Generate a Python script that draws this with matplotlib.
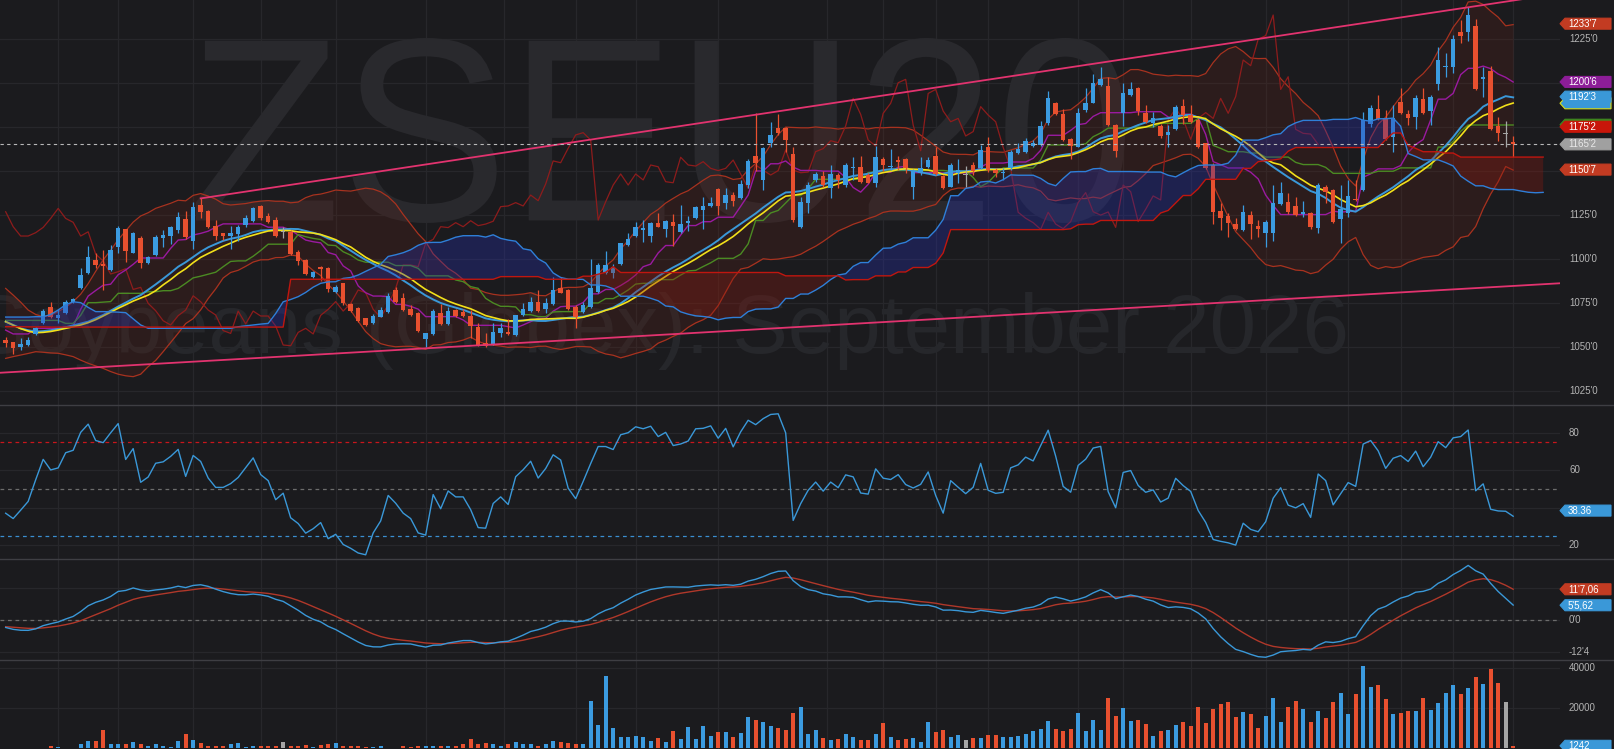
import numpy as np
import pandas as pd
import matplotlib
matplotlib.use("Agg")
import matplotlib.pyplot as plt
from matplotlib.patches import Polygon, PathPatch
from matplotlib.lines import Line2D
from matplotlib.textpath import TextPath
from matplotlib.font_manager import FontProperties
from matplotlib.transforms import blended_transform_factory, IdentityTransform, Affine2D

plt.rcParams['font.family'] = ['Liberation Sans', 'DejaVu Sans']

# ------------------------------------------------------------------ data
opens = [1053.9, 1052.6, 1050.1, 1051.1, 1057.2, 1063.4, 1072.5, 1066.3, 1069.1, 1075.5,
         1083.3, 1091.8, 1099.4, 1097.0, 1093.7, 1107.0, 1116.9, 1103.6, 1112.1, 1097.5,
         1102.3, 1111.9, 1113.1, 1116.5, 1122.6, 1110.4, 1130.7, 1127.5, 1118.8, 1114.6,
         1113.1, 1114.2, 1119.3, 1121.6, 1130.1, 1124.5, 1122.2, 1115.5, 1115.2, 1104.2,
         1099.4, 1089.6, 1095.3, 1094.7, 1081.4, 1086.2, 1074.4, 1072.3, 1066.3, 1063.4,
         1067.2, 1069.7, 1082.4, 1077.7, 1071.4, 1069.1, 1054.3, 1057.4, 1069.1, 1063.1,
         1071.0, 1069.7, 1067.6, 1061.5, 1052.4, 1051.7, 1057.7, 1058.3, 1056.8, 1068.2,
         1070.6, 1075.8, 1071.4, 1074.4, 1083.4, 1082.4, 1072.9, 1070.1, 1072.9, 1081.1,
         1091.9, 1091.9, 1097.2, 1108.0, 1113.1, 1116.5, 1113.1, 1120.3, 1117.1, 1120.9,
         1115.6, 1120.7, 1123.2, 1127.9, 1130.2, 1139.7, 1131.7, 1136.4, 1134.5, 1142.1,
         1158.6, 1145.0, 1165.8, 1174.4, 1174.4, 1159.8, 1118.4, 1132.1, 1145.0, 1147.2,
         1140.2, 1147.8, 1142.1, 1151.8, 1152.5, 1147.8, 1143.4, 1156.7, 1152.2, 1156.3,
         1156.7, 1140.8, 1149.1, 1152.2, 1158.6, 1147.2, 1141.2, 1148.7, 1147.8, 1153.5,
         1151.6, 1163.5, 1150.6, 1148.7, 1151.6, 1160.1, 1161.1, 1164.3, 1164.9, 1177.2,
         1188.9, 1182.5, 1168.1, 1163.9, 1184.8, 1188.9, 1199.0, 1198.4, 1176.2, 1182.9,
         1193.3, 1197.1, 1183.3, 1177.6, 1175.7, 1170.6, 1173.8, 1187.1, 1181.9, 1179.1,
         1165.8, 1153.5, 1127.5, 1124.5, 1119.9, 1116.5, 1125.0, 1118.8, 1115.0, 1115.0,
         1131.3, 1132.6, 1130.2, 1125.6, 1126.4, 1117.5, 1141.2, 1139.3, 1122.6, 1126.0,
         1134.3, 1139.3, 1176.8, 1185.3, 1180.0, 1169.6, 1189.5, 1182.5, 1180.6, 1191.0,
         1184.4, 1199.6, 1209.4, 1209.0, 1229.0, 1229.3, 1232.6, 1202.2, 1207.2, 1175.7,
         1171.1, 1166.8]
highs = [1055.8, 1053.0, 1054.9, 1055.8, 1061.5, 1071.6, 1075.7, 1071.4, 1076.7, 1077.6,
         1094.7, 1107.4, 1103.2, 1105.1, 1108.0, 1118.8, 1117.3, 1115.5, 1113.1, 1101.7,
         1113.7, 1116.5, 1118.8, 1126.9, 1127.5, 1132.6, 1134.5, 1127.9, 1122.2, 1115.0,
         1118.8, 1119.1, 1125.0, 1129.4, 1130.7, 1126.0, 1124.1, 1118.4, 1116.5, 1105.1,
         1099.8, 1093.4, 1096.0, 1095.3, 1085.2, 1086.5, 1075.2, 1072.9, 1066.6, 1068.7,
         1072.9, 1080.5, 1084.3, 1080.5, 1073.9, 1070.1, 1058.1, 1071.4, 1074.4, 1072.9,
         1071.4, 1071.4, 1071.0, 1063.4, 1058.1, 1063.8, 1063.4, 1065.7, 1068.2, 1074.8,
         1078.6, 1082.4, 1077.7, 1089.6, 1090.0, 1082.8, 1073.7, 1075.8, 1099.8, 1097.6,
         1104.8, 1097.2, 1109.3, 1114.6, 1121.3, 1122.2, 1121.3, 1126.4, 1122.2, 1125.6,
         1130.7, 1124.5, 1130.2, 1135.1, 1135.1, 1140.2, 1140.2, 1138.3, 1145.0, 1156.7,
         1183.3, 1163.9, 1178.2, 1182.5, 1175.3, 1163.9, 1135.5, 1144.0, 1149.7, 1150.3,
         1153.5, 1149.1, 1154.8, 1158.2, 1158.6, 1149.1, 1164.3, 1158.2, 1162.4, 1158.6,
         1157.3, 1151.0, 1158.2, 1158.2, 1163.9, 1147.8, 1154.8, 1156.7, 1152.9, 1155.4,
         1164.9, 1169.6, 1151.6, 1151.6, 1162.0, 1165.8, 1168.7, 1167.7, 1178.7, 1195.8,
         1189.5, 1185.2, 1168.7, 1185.7, 1197.1, 1205.2, 1209.4, 1203.4, 1176.8, 1199.9,
         1200.9, 1197.7, 1187.6, 1183.8, 1176.8, 1176.3, 1187.6, 1190.9, 1187.6, 1180.0,
         1166.2, 1154.4, 1131.7, 1126.0, 1123.2, 1130.8, 1127.5, 1122.2, 1122.2, 1142.1,
         1144.0, 1137.8, 1135.5, 1133.2, 1126.8, 1143.4, 1142.1, 1139.6, 1142.1, 1144.9,
         1144.9, 1183.8, 1187.6, 1193.3, 1184.8, 1187.6, 1197.1, 1184.8, 1193.3, 1197.1,
         1193.3, 1220.8, 1217.4, 1227.4, 1236.0, 1243.2, 1236.4, 1209.4, 1209.8, 1180.6,
         1178.7, 1170.0]
lows = [1050.1, 1046.0, 1048.2, 1050.5, 1056.8, 1062.8, 1066.3, 1063.4, 1068.7, 1075.2,
        1082.7, 1091.5, 1094.7, 1082.4, 1093.4, 1103.6, 1098.5, 1103.2, 1094.7, 1097.2,
        1101.7, 1107.0, 1108.5, 1114.6, 1111.2, 1105.5, 1123.1, 1117.4, 1110.8, 1110.8,
        1105.5, 1110.4, 1118.4, 1121.0, 1122.2, 1120.3, 1112.3, 1111.8, 1102.3, 1096.6,
        1090.9, 1089.0, 1087.7, 1081.4, 1080.8, 1073.8, 1070.0, 1064.4, 1061.9, 1063.0,
        1066.8, 1069.1, 1074.8, 1070.6, 1067.6, 1058.7, 1050.2, 1056.8, 1062.5, 1062.5,
        1067.2, 1067.2, 1054.9, 1050.5, 1050.2, 1051.1, 1055.8, 1056.8, 1056.4, 1067.6,
        1070.1, 1070.1, 1069.1, 1073.9, 1080.5, 1071.0, 1060.6, 1069.1, 1072.0, 1080.5,
        1091.5, 1089.0, 1096.6, 1107.4, 1112.7, 1109.9, 1109.9, 1118.0, 1112.7, 1107.4,
        1115.0, 1116.1, 1122.6, 1116.9, 1129.8, 1125.1, 1128.3, 1130.2, 1134.0, 1140.2,
        1150.3, 1139.3, 1163.9, 1170.6, 1161.1, 1121.3, 1117.5, 1126.4, 1144.0, 1141.2,
        1134.5, 1140.2, 1141.2, 1145.0, 1143.4, 1143.1, 1141.2, 1150.3, 1150.6, 1150.6,
        1149.1, 1134.0, 1147.8, 1151.6, 1147.8, 1139.6, 1140.8, 1143.1, 1140.8, 1147.8,
        1151.0, 1149.7, 1146.9, 1145.0, 1150.6, 1159.7, 1160.5, 1163.5, 1164.3, 1176.2,
        1181.7, 1167.3, 1157.1, 1163.5, 1183.8, 1188.6, 1198.4, 1175.7, 1158.2, 1175.7,
        1192.7, 1181.9, 1177.6, 1175.3, 1168.7, 1163.9, 1173.4, 1176.8, 1177.6, 1163.0,
        1151.0, 1119.9, 1116.5, 1112.7, 1116.5, 1116.1, 1111.2, 1112.3, 1106.6, 1110.5,
        1130.8, 1125.6, 1124.5, 1123.7, 1116.9, 1114.6, 1131.7, 1120.7, 1109.3, 1124.1,
        1133.2, 1138.9, 1175.3, 1179.1, 1167.7, 1161.1, 1182.5, 1176.3, 1173.8, 1182.5,
        1176.3, 1196.2, 1203.7, 1205.6, 1223.1, 1224.2, 1196.2, 1192.4, 1173.4, 1167.3,
        1163.5, 1158.2]
closes = [1052.0, 1049.2, 1051.5, 1053.9, 1060.9, 1070.4, 1067.2, 1068.1, 1075.7, 1077.1,
          1090.9, 1101.3, 1096.6, 1096.0, 1105.1, 1117.4, 1104.7, 1114.6, 1097.5, 1101.3,
          1112.3, 1113.5, 1118.0, 1124.1, 1112.3, 1129.8, 1126.9, 1118.4, 1113.1, 1113.1,
          1115.0, 1118.0, 1123.1, 1128.8, 1123.1, 1120.9, 1113.1, 1115.5, 1102.8, 1098.9,
          1091.5, 1092.8, 1094.5, 1082.7, 1083.9, 1074.8, 1070.6, 1064.9, 1062.5, 1067.8,
          1071.0, 1079.1, 1075.7, 1071.0, 1068.2, 1059.3, 1057.7, 1070.4, 1063.1, 1070.4,
          1067.6, 1067.6, 1061.9, 1051.1, 1050.7, 1058.3, 1060.6, 1057.4, 1068.0, 1071.4,
          1075.8, 1070.4, 1074.8, 1082.4, 1080.9, 1071.4, 1066.9, 1073.9, 1083.4, 1096.6,
          1096.6, 1095.7, 1108.9, 1111.2, 1118.4, 1117.9, 1120.7, 1118.4, 1121.8, 1119.0,
          1119.9, 1121.5, 1129.8, 1130.2, 1132.1, 1130.2, 1136.4, 1133.2, 1142.7, 1155.8,
          1154.8, 1163.0, 1170.6, 1171.9, 1167.7, 1122.2, 1132.6, 1142.1, 1148.4, 1142.1,
          1148.4, 1145.0, 1153.5, 1152.5, 1144.0, 1143.4, 1157.9, 1153.5, 1152.9, 1155.4,
          1151.6, 1150.3, 1151.6, 1156.3, 1148.4, 1140.2, 1153.5, 1150.6, 1147.8, 1150.3,
          1162.0, 1150.6, 1149.1, 1149.5, 1161.1, 1162.8, 1167.3, 1166.2, 1175.7, 1191.4,
          1182.3, 1167.7, 1164.3, 1182.9, 1188.6, 1200.3, 1202.2, 1176.2, 1161.6, 1194.2,
          1196.5, 1184.2, 1178.1, 1180.0, 1170.0, 1172.5, 1186.7, 1181.9, 1178.1, 1163.5,
          1151.6, 1126.6, 1123.2, 1120.7, 1116.9, 1126.6, 1119.9, 1117.3, 1121.3, 1132.1,
          1137.8, 1126.9, 1125.0, 1126.8, 1118.0, 1142.1, 1138.3, 1121.3, 1128.3, 1135.9,
          1133.6, 1179.1, 1185.7, 1179.5, 1168.1, 1180.0, 1183.3, 1180.0, 1191.4, 1182.9,
          1192.4, 1213.2, 1210.0, 1225.0, 1227.1, 1238.8, 1196.5, 1203.7, 1173.8, 1171.5,
          1171.1, 1165.25]
volumes = [330, 330, 60, 60, 60, 60, 1160, 660, 330, 60,
           1990, 3640, 3640, 9260, 2320, 2320, 2320, 3140, 2320, 1320,
           2320, 990, 660, 3640, 6950, 4300, 2650, 990, 1320, 990,
           2320, 2650, 660, 990, 990, 990, 1320, 3140, 990, 1320,
           1820, 660, 1820, 2320, 2650, 990, 1320, 1320, 660, 660,
           990, 170, 330, 990, 660, 1320, 990, 1320, 990, 990,
           1320, 1990, 4630, 1990, 2650, 2320, 1320, 2320, 3310, 2320,
           1990, 1320, 2320, 3640, 3310, 2650, 1990, 2320, 23490, 11580,
           36000, 9920, 5790, 5790, 6290, 5790, 3640, 4960, 3310, 8770,
           4630, 10420, 4630, 10920, 6290, 8270, 8270, 5460, 7610, 15380,
           14060, 13230, 10920, 9920, 9100, 17370, 20680, 7110, 9100, 4960,
           4140, 4630, 7110, 5460, 4140, 4140, 7110, 12740, 5460, 4140,
           4630, 4960, 3140, 13230, 8270, 9100, 5790, 6620, 4140, 4960,
           4960, 6620, 6620, 5790, 5790, 6290, 6950, 8600, 9590, 13560,
           9590, 8770, 9430, 17700, 8600, 14060, 9100, 24810, 16210, 19850,
           13560, 13890, 12070, 6290, 8770, 9100, 11740, 13230, 11250, 20680,
           12740, 19350, 21830, 23160, 15380, 18190, 17200, 9920, 16210, 24810,
           13230, 20680, 23490, 19520, 13230, 18690, 14890, 23160, 27620, 16870,
           26800, 40850, 30270, 31260, 24480, 17200, 17700, 18530, 18530, 24810,
           19020, 22330, 27620, 31260, 26800, 29770, 35230, 31760, 39370, 32580,
           22830, 1242]

bb_upper_early = [1083.3, 1079.5, 1075.5, 1071.0, 1068.5, 1067.2, 1068.0, 1070.1, 1072.5, 1075.8,
                  1080.0, 1086.0, 1093.0, 1099.5, 1105.0, 1111.0, 1116.0, 1121.0, 1124.5]
bb_mid_early = [1064.4, 1062.5, 1060.6, 1059.5, 1058.7, 1059.0, 1059.5, 1060.3, 1061.2, 1062.3,
                1063.3, 1064.4, 1066.3, 1068.2, 1070.6, 1073.0, 1075.2, 1077.5, 1079.5]
bb_lower_early = [1043.5, 1044.5, 1045.4, 1046.3, 1047.3, 1047.0, 1046.6, 1046.4, 1045.5, 1044.5,
                  1042.5, 1040.7, 1039.2, 1037.8, 1036.0, 1034.5, 1033.6, 1033.1, 1034.5]
slow_ma_early = [1064.4, 1062.4, 1060.4, 1059.0, 1058.1, 1058.3, 1058.8, 1059.6, 1060.6, 1061.5,
                 1062.5, 1063.8, 1065.5, 1067.6, 1069.8, 1072.0, 1074.0, 1076.1, 1077.8, 1079.5,
                 1082.0]
tenkan_early = [1059.6, 1057.4, 1057.4, 1057.4, 1060.6, 1060.6, 1060.6, 1060.6]
kijun_early = [1065.1, 1065.1, 1065.1, 1065.1, 1065.1, 1065.1, 1065.1, 1065.1, 1063.4, 1063.4,
               1068.0, 1075.2, 1075.2, 1075.5, 1075.8, 1080.5, 1080.5, 1080.5, 1080.5, 1081.4,
               1081.4, 1082.0, 1082.0, 1083.3, 1086.2]
span_a_early = [1067.0, 1067.0, 1067.0, 1067.0, 1067.2, 1067.2, 1068.5, 1071.0, 1074.0, 1075.7,
                1075.2, 1072.5, 1070.1, 1070.1, 1070.0, 1069.8, 1069.5, 1066.0, 1062.5, 1060.6,
                1060.6, 1060.6, 1060.6, 1060.6, 1060.6, 1060.6, 1060.6, 1060.6, 1060.6, 1060.6,
                1060.6, 1061.5, 1062.0, 1062.5, 1063.0, 1063.4, 1069.0, 1075.7, 1077.0, 1078.6,
                1081.0, 1084.0, 1086.2, 1087.0, 1087.1, 1089.0, 1089.5, 1090.9, 1093.0, 1095.0,
                1097.0]
span_b_early = [1061.5, 1061.5, 1061.5, 1061.4, 1061.4, 1061.4, 1061.3, 1061.3, 1061.3, 1061.3,
                1061.3, 1061.3, 1061.3, 1061.3, 1061.3, 1061.3, 1061.3, 1061.3, 1061.3, 1061.3,
                1061.3, 1061.3, 1061.3, 1061.3, 1061.3, 1061.3, 1061.3, 1061.3, 1061.3, 1061.3,
                1061.3, 1061.3, 1061.3, 1061.3, 1061.3, 1061.3, 1061.3, 1061.3, 1088.5, 1088.5,
                1088.5, 1088.5, 1088.5, 1088.5, 1088.5, 1088.5, 1088.5, 1088.5, 1088.5, 1088.5,
                1088.5, 1088.5, 1088.5, 1088.5, 1088.5, 1088.5, 1088.5, 1088.5, 1088.5, 1088.5,
                1088.5, 1088.5, 1088.5, 1088.5, 1088.5, 1088.5, 1090.0, 1090.0, 1090.0, 1090.0,
                1090.0, 1090.0, 1088.5, 1088.5, 1088.5, 1088.5, 1088.5]
macd_seed = -2.9             # MACD at bar 0
signal_seed = -2.6           # signal at bar 0
ema26_seed = 1064.0          # long EMA at bar 0
rsi_gain_seed = 1.90         # smoothed gain / loss at bar 0 (RSI 37)
rsi_loss_seed = 3.24

price_ticks = [1025, 1050, 1075, 1100, 1125, 1150, 1175, 1200, 1225]
price_hidden = [1150, 1175, 1200]            # covered by the value tags
rsi_ticks = [20, 40, 60, 80]
rsi_hidden = [40]
rsi_levels = [75, 50, 25]
macd_ticks = [-12.5, 0, 12.5]
macd_hidden = [12.5]
vol_ticks = [20000, 40000]
grid_bars = [7, 15, 25, 34, 44, 56, 66.5, 76, 84, 95, 109.5, 117, 124, 131, 143, 149,
             158, 168, 179, 186, 193, 201]

upper_trend_x = [26, 195]
upper_trend_y = [1134.5, 1243.2]
lower_trend_x = [0, 201]
lower_trend_y = [1035.5, 1084.7]
last_price = 1165.25

main_labels = [  # value, text (None = hidden under another tag), box colour, text colour, edge
    (1188.6, None, '#3a98d8', '#ffffff', '#d8e020'),
    (1176.4, None, '#3f8a1f', '#ffffff', '#3f8a1f'),
    (1233.875, "1233'7", '#c23b22', '#ffffff', '#c23b22'),
    (1200.75, "1200'6", '#8d1d98', '#ffffff', '#8d1d98'),
    (1192.375, "1192'3", '#3a98d8', '#ffffff', '#3a98d8'),
    (1175.25, "1175'2", '#c8160a', '#ffffff', '#c8160a'),
    (1165.25, "1165'2", '#a0a0a0', '#e8e8e8', '#a0a0a0'),
    (1150.875, "1150'7", '#c23b22', '#ffffff', '#c23b22'),
]
rsi_labels = [(38.36, "38.36", '#3a98d8', '#ffffff', '#3a98d8')]
macd_labels = [(11.88, "11'7,06", '#c23b22', '#ffffff', '#c23b22'),
               (5.70, "5'5,62", '#3a98d8', '#ffffff', '#3a98d8')]
vol_labels = [(1242, "1242", '#3a98d8', '#ffffff', '#3a98d8')]

# ------------------------------------------------------------------ indicators
c = pd.Series(closes, dtype=float)
h = pd.Series(highs, dtype=float)
l = pd.Series(lows, dtype=float)
n = len(c)
idx = np.arange(n)

sma = c.rolling(20).mean()
sd = c.rolling(20).std(ddof=0)
bb_up = (sma + 2 * sd).to_numpy()
bb_lo = (sma - 2 * sd).to_numpy()
sma = sma.to_numpy()
bb_up[:19] = bb_upper_early
bb_lo[:19] = bb_lower_early
sma[:19] = bb_mid_early

slow_ma = c.rolling(22).mean().to_numpy()
slow_ma[:21] = slow_ma_early

tenkan = ((h.rolling(9).max() + l.rolling(9).min()) / 2).to_numpy()
kijun = ((h.rolling(26).max() + l.rolling(26).min()) / 2).to_numpy()
tenkan[:8] = tenkan_early
kijun[:25] = kijun_early
raw_a = (tenkan + kijun) / 2
raw_b = ((h.rolling(52).max() + l.rolling(52).min()) / 2).to_numpy()
m = n + 26
span_a = np.full(m, np.nan)
span_b = np.full(m, np.nan)
span_a[26:] = raw_a
span_b[26:] = raw_b
span_a[:len(span_a_early)] = span_a_early
span_b[:len(span_b_early)] = span_b_early
cloud_end = 206
cx = np.arange(cloud_end)
sa = span_a[:cloud_end]
sb = span_b[:cloud_end]

# MACD 12/26/9
e12 = np.empty(n); e26 = np.empty(n); macd = np.empty(n); sig = np.empty(n)
e26[0] = ema26_seed
e12[0] = ema26_seed + macd_seed
macd[0] = macd_seed
sig[0] = signal_seed
k12, k26, k9 = 2 / 13, 2 / 27, 2 / 10
for i in range(1, n):
    e12[i] = k12 * closes[i] + (1 - k12) * e12[i - 1]
    e26[i] = k26 * closes[i] + (1 - k26) * e26[i - 1]
    macd[i] = e12[i] - e26[i]
    sig[i] = k9 * macd[i] + (1 - k9) * sig[i - 1]

# RSI 14 (exponential smoothing of gains and losses)
rsi = np.empty(n)
g, lo_ = rsi_gain_seed, rsi_loss_seed
rsi[0] = 100 - 100 / (1 + g / lo_)
kr = 2 / 15
for i in range(1, n):
    d = closes[i] - closes[i - 1]
    g = (1 - kr) * g + kr * max(d, 0)
    lo_ = (1 - kr) * lo_ + kr * max(-d, 0)
    rsi[i] = 100 - 100 / (1 + g / lo_)

# ------------------------------------------------------------------ style
BG = '#1b1b1e'
GRID = '#27272b'
TICK = '#b4b4b4'
UP, DOWN, FLAT = '#3b9be0', '#e8502f', '#a5a5a5'
W, H = 1614, 749
PLOT_R = 1560
x0 = -5.67 / 7.5
x1 = (PLOT_R - 5.67) / 7.5

fig = plt.figure(figsize=(W / 100, H / 100), dpi=100, facecolor=BG)


def add_ax(top, bottom):
    a = fig.add_axes([0, (H - bottom) / H, PLOT_R / W, (bottom - top) / H])
    a.set_facecolor(BG)
    a.set_xlim(x0, x1)
    for s in a.spines.values():
        s.set_visible(False)
    a.set_xticks([])
    a.set_yticks([])
    for gb in grid_bars:
        a.axvline(gb, color=GRID, lw=0.9, zorder=0)
    return a


ax = add_ax(0, 405)
ax_rsi = add_ax(405, 559)
ax_macd = add_ax(559, 660)
ax_vol = add_ax(660, 749)

ax.set_ylim(1016.98, 1247.35)
ax_rsi.set_ylim(12.5, 94.8)
ax_macd.set_ylim(-15.5, 23.6)
ax_vol.set_ylim(-347, 43823)


def frac8(v):
    sign = '-' if v < 0 else ''
    a = abs(v)
    whole = int(a)
    return f"{sign}{whole}'{int(round((a - whole) * 8))}"


def ticks(a, values, fmt, hidden=()):
    tr = blended_transform_factory(a.transAxes, a.transData)
    for v in values:
        a.axhline(v, color=GRID, lw=0.9, zorder=0)
        if v in hidden:
            continue
        a.text(1569 / PLOT_R, v, fmt(v), transform=tr, color=TICK, fontsize=7,
               va='center', ha='left', clip_on=False)


ticks(ax, price_ticks, frac8, price_hidden)
ticks(ax_rsi, rsi_ticks, str, rsi_hidden)
ticks(ax_macd, macd_ticks, frac8, macd_hidden)
ticks(ax_vol, vol_ticks, str)

# watermarks
tp = TextPath((0, 0), "ZSEU20", size=100, prop=FontProperties(family='Liberation Sans'))
tb = tp.get_extents()
box_l, box_r, box_top, box_bot = 196, 1125, 38, 223      # pixel box of the big symbol
wm = Affine2D().translate(-tb.x0, -tb.y0).scale((box_r - box_l) / tb.width,
                                                 (box_bot - box_top) / tb.height)
wm = wm.translate(box_l, H - box_bot)
ax.add_artist(PathPatch(wm.transform_path(tp), facecolor='#29292d', lw=0,
                        transform=IdentityTransform(), zorder=0.5))
ax.text(660 / PLOT_R, (405 - 353) / 405, "Soybeans (Globex): September 2026",
        transform=ax.transAxes, fontsize=60, color='#26272b', ha='center',
        va='baseline', zorder=0.5)

# Bollinger bands
ax.fill_between(idx, bb_lo, bb_up, color='#6a2418', alpha=0.22, lw=0, zorder=1)
ax.plot(idx, bb_up, color='#a8321f', lw=0.9, zorder=2)
ax.plot(idx, bb_lo, color='#a8321f', lw=0.9, zorder=2)

# chikou span
ax.plot(idx[:n - 26], closes[26:], color='#8e1c1c', lw=0.9, zorder=2)
# tenkan / kijun
ax.plot(idx, tenkan, color='#9a1aa0', lw=1.0, zorder=2.2)
ax.plot(idx, kijun, color='#4b8a23', lw=1.0, zorder=2.2)
# averages
ax.plot(idx, sma, color='#3a98d8', lw=1.4, zorder=2.4)
ax.plot(idx, slow_ma, color='#f2e01a', lw=1.2, zorder=2.5)

# candles
cols = [UP if cc > oo else (DOWN if cc < oo else FLAT) for oo, cc in zip(opens, closes)]
ax.vlines(idx, lows, highs, colors=cols, lw=0.9, zorder=3)
bott = np.minimum(opens, closes)
hgt = np.maximum(np.abs(np.array(closes) - np.array(opens)), 0.35)
ax.bar(idx, hgt, bottom=bott, width=0.6, color=cols, lw=0, zorder=3.1)

# cloud (drawn over candles, translucent)
ax.fill_between(cx, sa, sb, where=sa >= sb, interpolate=True, color='#2730b0',
                alpha=0.33, lw=0, zorder=3.5)
ax.fill_between(cx, sa, sb, where=sa < sb, interpolate=True, color='#8e1a10',
                alpha=0.33, lw=0, zorder=3.5)
ax.plot(cx, sa, color='#2f7fd8', lw=1.0, zorder=3.6)
ax.plot(cx, sb, color='#c0160f', lw=1.0, zorder=3.6)

# trend lines
ut = np.polyfit(upper_trend_x, upper_trend_y, 1)
lt = np.polyfit(lower_trend_x, lower_trend_y, 1)
ax.plot([upper_trend_x[0], x1], np.polyval(ut, [upper_trend_x[0], x1]),
        color='#e2336f', lw=1.3, zorder=4)
ax.plot([x0, x1], np.polyval(lt, [x0, x1]), color='#e2336f', lw=1.3, zorder=4)

# last price
ax.axhline(last_price, color='#b8b8b8', lw=0.8, ls=(0, (3, 3)), zorder=4)

# RSI
for lv, colr in zip(rsi_levels, ['#c8161c', '#6c6c6c', '#3a8ed0']):
    ax_rsi.axhline(lv, color=colr, lw=0.9, ls=(0, (3, 3)), zorder=1)
ax_rsi.plot(idx, rsi, color='#3a98d8', lw=1.0, zorder=2)

# MACD
ax_macd.axhline(0, color='#6c6c6c', lw=0.9, ls=(0, (3, 3)), zorder=1)
ax_macd.plot(idx, sig, color='#b0382a', lw=1.0, zorder=2)
ax_macd.plot(idx, macd, color='#3a98d8', lw=1.0, zorder=2.1)

# volume
ax_vol.bar(idx, volumes, width=0.55, color=cols, lw=0, zorder=2)

# panel separators
for yy in (405, 559, 660):
    fig.add_artist(Line2D([0, W], [H - yy, H - yy], color='#3e3e43', lw=1.0,
                          transform=IdentityTransform()))


def tags(a, items):
    for v, t, bc, tc, ec in items:
        yc = a.transData.transform((0, v))[1]
        pts = [(PLOT_R, yc), (PLOT_R + 5, yc + 5.5), (1611, yc + 5.5),
               (1611, yc - 5.5), (PLOT_R + 5, yc - 5.5)]
        fig.add_artist(Polygon(pts, closed=True, facecolor=bc, edgecolor=ec, lw=0.8,
                               transform=IdentityTransform(), zorder=5))
        if t:
            fig.text(PLOT_R + 8, yc, t, transform=IdentityTransform(), color=tc,
                     fontsize=7, va='center', ha='left', zorder=6)


tags(ax, main_labels)
tags(ax_rsi, rsi_labels)
tags(ax_macd, macd_labels)
tags(ax_vol, vol_labels)

fig.savefig('out.png', dpi=100, facecolor=BG)
